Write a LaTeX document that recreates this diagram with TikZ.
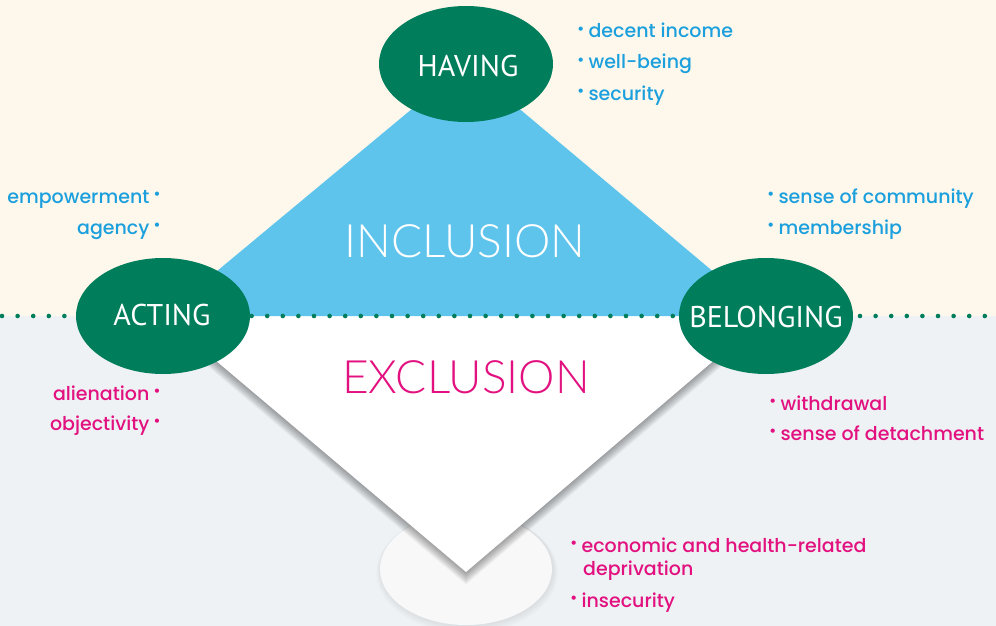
\documentclass[tikz,border=0pt]{standalone}
\usepackage{fontspec}
\setmainfont{Poppins}[UprightFont={* Medium}]
\newfontfamily\capsfont{PT Sans}
\newfontfamily\thinfont{Lato Light}
\usetikzlibrary{shapes.geometric}

\definecolor{cream}{HTML}{FEF8EC}
\definecolor{mist}{HTML}{EEF2F5}
\definecolor{leaf}{HTML}{007D5B}
\definecolor{sky}{HTML}{5EC4EC}
\definecolor{azure}{HTML}{1BA0DD}
\definecolor{rose}{HTML}{E2117F}
\definecolor{pearl}{HTML}{F8F8F8}

% small raised bullet used in the lists
\newcommand\listdot{\raisebox{3.5pt}{\fontsize{16}{16}\selectfont\char"2022}}

\tikzset{
  pillar/.style={ellipse, fill=leaf, text=white, minimum width=174pt,
    minimum height=116pt, inner sep=0pt},
  pillartext/.style={anchor=base, inner sep=0pt, text=white, font=\capsfont\fontsize{30}{30}\selectfont},
  bigword/.style={anchor=base, inner sep=0pt, font=\thinfont\fontsize{46}{46}\selectfont},
  item/.style={inner sep=0pt, font=\fontsize{19}{19}\selectfont},
  itemL/.style={item, anchor=base west},
  itemR/.style={item, anchor=base east},
  dotline/.style={leaf, line width=4.6pt, line cap=round, dash pattern=on 0pt off 15.6pt},
  shade layer/.style={fill=black, opacity=0.026},
}

\begin{document}
\begin{tikzpicture}[x=1pt,y=-1pt]
\useasboundingbox (0,0) rectangle (996,626);
% two halves of the background
\fill[cream] (0,0) rectangle (996,316);
\fill[mist] (0,316) rectangle (996,626);

% corners of the diamond
\coordinate (top) at (466,64);
\coordinate (left) at (163,316);
\coordinate (right) at (766,316);
\coordinate (bottom) at (466,572);
\coordinate (lineW) at (2,316);
\coordinate (lineE) at (996,316);

% soft shadow of the pale base
\foreach \s in {1,...,6}
  \fill[black, opacity=0.012] (467,569+\s*0.6) ellipse ({86+\s*0.8} and {56+\s*0.8});
% pale base under the lower point
\node[ellipse, fill=pearl, minimum width=172pt, minimum height=112pt, inner sep=0pt]
  (base) at (466,569) {};

% soft shadow under the lower half, built from stacked offset copies
\foreach \s in {1,...,14}
  \fill[shade layer] ([yshift=-\s*0.9pt]left) -- ([yshift=-\s*0.9pt]right) -- ([yshift=-\s*0.9pt]bottom) -- cycle;
% lower (exclusion) half
\fill[white] (left) -- (right) -- (bottom) -- cycle;
% upper (inclusion) half
\fill[sky] (left) -- (top) -- (right) -- cycle;

% dotted divider
\draw[dotline] (lineW) -- (lineE);

% the three dimensions
\node[pillar] (having) at (top) {};
\node[pillar] (acting) at (left) {};
\node[pillar] (belonging) at (right) {};
\node[pillartext] (havingT) at (468,77) {HAVING};
\node[pillartext] (actingT) at (162,325) {ACTING};
\node[pillartext] (belongingT) at (766,327) {BELONGING};

\node[bigword, text=white] (incl) at (465,257) {INCLUSION};
\node[bigword, text=rose] (excl) at (466,393) {EXCLUSION};

% having
\node[itemL, text=azure] (h1) at (577,38) {\listdot\hspace{4pt}decent income};
\node[itemL, text=azure] (h2) at (577,69) {\listdot\hspace{4pt}well-being};
\node[itemL, text=azure] (h3) at (577,100) {\listdot\hspace{4pt}security};
% belonging
\node[itemL, text=azure] (b1) at (767,203) {\listdot\hspace{4pt}sense of community};
\node[itemL, text=azure] (b2) at (767,234) {\listdot\hspace{4pt}membership};
\node[itemL, text=rose] (b3) at (769,410) {\listdot\hspace{4pt}withdrawal};
\node[itemL, text=rose] (b4) at (769,440) {\listdot\hspace{4pt}sense of detachment};
% acting
\node[itemR, text=azure] (a1) at (161,203) {empowerment\hspace{4pt}\listdot};
\node[itemR, text=azure] (a2) at (161,234) {agency\hspace{4pt}\listdot};
\node[itemR, text=rose] (a3) at (161,400) {alienation\hspace{4pt}\listdot};
\node[itemR, text=rose] (a4) at (161,430) {objectivity\hspace{4pt}\listdot};
% base
\node[itemL, text=rose] (d1) at (570,552) {\listdot\hspace{4pt}economic and health-related};
\node[itemL, text=rose] (d2) at (583,575) {deprivation};
\node[itemL, text=rose] (d3) at (570,607) {\listdot\hspace{4pt}insecurity};
\end{tikzpicture}
\end{document}
